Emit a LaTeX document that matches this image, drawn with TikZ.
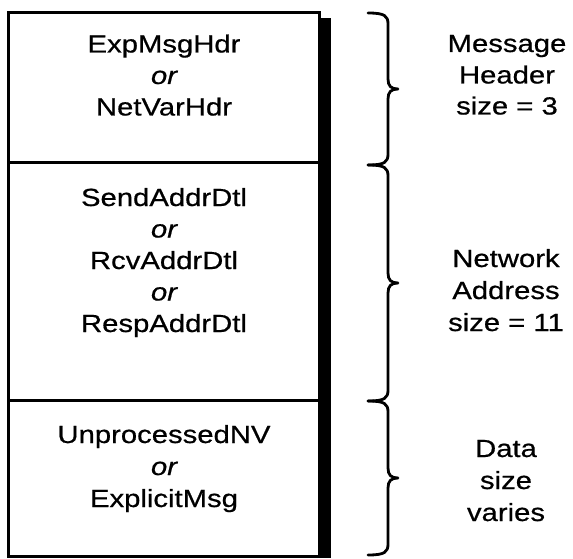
\documentclass[tikz,border=0pt]{standalone}
\usepackage{fontspec}
\setmainfont{Liberation Sans}[FakeStretch=1.18,FakeBold=0.6]
\newcommand\rbr[3]{% #1 name, #2 top, #3 bottom
  \pgfmathsetmacro\ym{(#2+#3)/2}
  \coordinate (#1top) at (368,#2);
  \coordinate (#1tip) at (398,\ym);
  \coordinate (#1bot) at (368,#3);
  \draw[bracestyle] (#1top) .. controls (385,#2) and (388,#2+3) .. (388,#2+11)
     -- (388,\ym-10) .. controls (388,\ym-3) and (391,\ym) .. (#1tip)
     .. controls (391,\ym) and (388,\ym+3) .. (388,\ym+10)
     -- (388,#3-11) .. controls (388,#3-3) and (385,#3) .. (#1bot);}
\begin{document}
\begin{tikzpicture}[x=1pt,y=-1pt,
  txt/.style={anchor=base,inner sep=0pt,font=\fontsize{24.8}{31}\selectfont},
  bracestyle/.style={line width=2.8pt,line cap=round,line join=round},
  boxline/.style={line width=3pt}]
\useasboundingbox (0,0) rectangle (573,559);
% shadow bar
\fill[black] (318,18) rectangle (331,557.5);
% box and dividers
\coordinate (tl) at (8,13);
\coordinate (br) at (319,556.5);
\draw[boxline] (tl) rectangle (br);
\coordinate (d1l) at (8,163);
\coordinate (d1r) at (319,163);
\coordinate (d2l) at (8,400);
\coordinate (d2r) at (319,400);
\draw[boxline] (d1l) -- (d1r);
\draw[boxline] (d2l) -- (d2r);
% box texts
\node[txt] (a1) at (164,52.5) {ExpMsgHdr};
\node[txt] (a2) at (164,84) {\itshape or};
\node[txt] (a3) at (164,115.5) {NetVarHdr};
\node[txt] (b1) at (164,206) {SendAddrDtl};
\node[txt] (b2) at (164,237.5) {\itshape or};
\node[txt] (b3) at (164,269) {RcvAddrDtl};
\node[txt] (b4) at (164,300.5) {\itshape or};
\node[txt] (b5) at (164,332) {RespAddrDtl};
\node[txt] (c1) at (164,443) {UnprocessedNV};
\node[txt] (c2) at (164,475) {\itshape or};
\node[txt] (c3) at (164,507) {ExplicitMsg};
% braces
\rbr{br1}{13}{165}
\rbr{br2}{165}{401}
\rbr{br3}{401}{555}
% labels
\node[txt] (m1) at (507,52) {Message};
\node[txt] (m2) at (507,83.5) {Header};
\node[txt] (m3) at (507,114.5) {size = 3};
\node[txt] (n1) at (506,267) {Network};
\node[txt] (n2) at (506,299) {Address};
\node[txt] (n3) at (506,331) {size = 11};
\node[txt] (o1) at (506,457) {Data};
\node[txt] (o2) at (506,489) {size};
\node[txt] (o3) at (506,521) {varies};
\end{tikzpicture}
\end{document}
